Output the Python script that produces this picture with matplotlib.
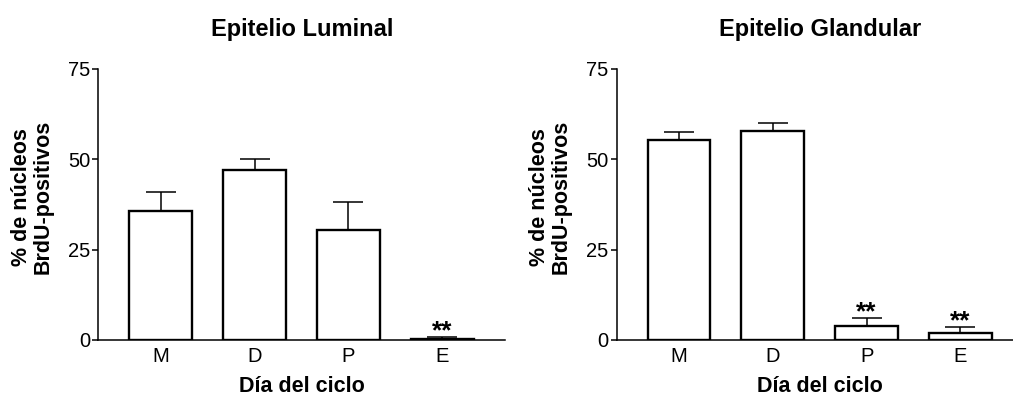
import matplotlib
matplotlib.use("Agg")
import matplotlib.pyplot as plt

plt.rcParams['font.family'] = ['Liberation Sans', 'DejaVu Sans']

categories = ["M", "D", "P", "E"]
titles = ["Epitelio Luminal", "Epitelio Glandular"]
luminal_mean = [35.6, 47.0, 30.4, 0.4]
luminal_err = [5.4, 3.1, 7.9, 0.3]
glandular_mean = [55.4, 57.9, 3.9, 2.0]
glandular_err = [2.3, 2.2, 2.1, 1.5]
luminal_sig = ["", "", "", "**"]
glandular_sig = ["", "", "**", "**"]
yticks = [0, 25, 50, 75]
ylabel = "% de núcleos\nBrdU-positivos"
xlabel = "Día del ciclo"

fig = plt.figure(figsize=(10.13, 3.97), dpi=100)
ax_pos = [[0.0972, 0.1436, 0.4013, 0.6826], [0.6088, 0.1436, 0.4013, 0.6826]]

data = [(luminal_mean, luminal_err, luminal_sig), (glandular_mean, glandular_err, glandular_sig)]
for i, (means, errs, sigs) in enumerate(data):
    ax = fig.add_axes(ax_pos[i])
    x = list(range(len(categories)))
    ax.bar(x, means, width=0.67, color="white", edgecolor="black", linewidth=1.7, zorder=3)
    ax.errorbar(x, means, yerr=[[0] * len(errs), errs], fmt="none", ecolor="black",
                elinewidth=1.1, capsize=10.8, capthick=1.1, zorder=2)
    for xi, m, e, s in zip(x, means, errs, sigs):
        if s:
            ax.annotate(s, (xi, m + e), xytext=(0, -4), textcoords="offset points",
                        ha="center", va="bottom", fontsize=19, fontweight="bold")
    ax.set_xlim(-0.665, 3.67)
    ax.set_ylim(0, 75)
    ax.set_yticks(yticks)
    ax.set_xticks(x)
    ax.set_xticklabels(categories)
    ax.spines["top"].set_visible(False)
    ax.spines["right"].set_visible(False)
    ax.spines["left"].set_linewidth(1.1)
    ax.spines["bottom"].set_linewidth(1.1)
    ax.tick_params(axis="y", direction="out", length=4, width=1.1, labelsize=14.5, pad=2)
    ax.tick_params(axis="x", length=0, labelsize=14.5, pad=5)
    ax.set_title(titles[i], fontsize=17, fontweight="bold", pad=24)
    ax.set_xlabel(xlabel, fontsize=15.5, fontweight="bold", labelpad=7)
    ax.set_ylabel(ylabel, fontsize=15.5, fontweight="bold", linespacing=1.05)
    ax.yaxis.set_label_coords(-0.11, 0.528)

fig.savefig("out.png", dpi=100)
